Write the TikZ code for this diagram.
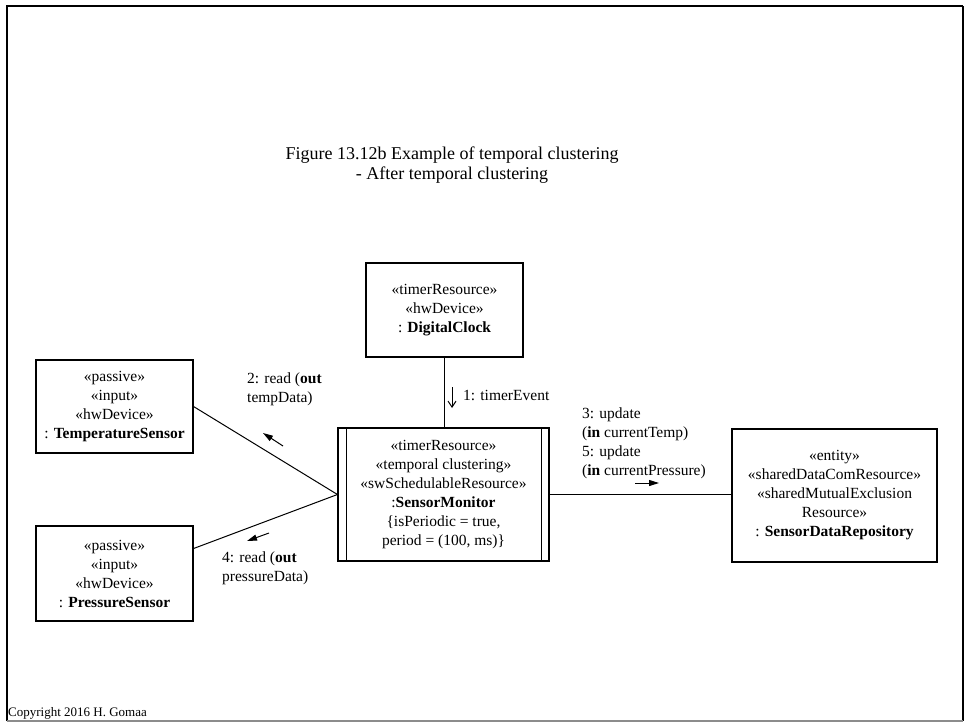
\documentclass[tikz,border=0pt]{standalone}
\usepackage{fontspec}
\setmainfont{Liberation Serif}
\usetikzlibrary{arrows.meta,calc}
\begin{document}
\begin{tikzpicture}[x=1pt,y=-1pt,font=\fontsize{15.5}{19}\selectfont,
  obj/.style={draw,line width=1.1pt,align=center,inner sep=0pt},
  msg/.style={align=left,anchor=west,inner sep=0pt},
  flow/.style={line width=1pt,-{Triangle[length=10pt,width=6pt]}}]
\useasboundingbox (0,0) rectangle (968,723);
\draw[line width=2.5pt] (7,721) -- (7,6) -- (963,6);
\draw[line width=2pt] (963,6) -- (963,721);
\draw[black!45,line width=1.5pt] (7,721) -- (963,721);

\node[align=center,font=\fontsize{18}{20}\selectfont] (title) at (452,165) {Figure 13.12b Example of temporal clustering\\- After temporal clustering};

\node[obj,minimum width=157pt,minimum height=94pt] (clock) at (444.5,310) {«timerResource»\\«hwDevice»\\: \textbf{DigitalClock}};
\node[obj,minimum width=211pt,minimum height=133pt] (monitor) at (443.5,494.5) {«timerResource»\\«temporal clustering»\\«swSchedulableResource»\\:\textbf{SensorMonitor}\\\{isPeriodic = true,\\period = (100, ms)\}};
\node[obj,minimum width=157pt,minimum height=93pt] (tempsensor) at (114.5,406.5) {«passive»\\«input»\\«hwDevice»\\: \textbf{TemperatureSensor}};
\node[obj,minimum width=157pt,minimum height=95pt] (pressensor) at (114.5,573.5) {«passive»\\«input»\\«hwDevice»\\: \textbf{PressureSensor}};
\node[obj,minimum width=205pt,minimum height=133pt] (repo) at (834.5,495.5) {«entity»\\«sharedDataComResource»\\«sharedMutualExclusion\\Resource»\\: \textbf{SensorDataRepository}};

\draw[line width=1.1pt] ([xshift=9pt]monitor.north west) -- ([xshift=9pt]monitor.south west);
\draw[line width=1.1pt] ([xshift=-8pt]monitor.north east) -- ([xshift=-8pt]monitor.south east);

\draw[line width=1pt] (clock.south) -- (clock.south |- monitor.north);
\draw[line width=1pt] (tempsensor.east) -- (monitor.west);
\draw[line width=1pt] ($(pressensor.north east)!0.24!(pressensor.south east)$) -- (monitor.west);
\draw[line width=1pt] (monitor.east) -- (monitor.east -| repo.west);

\node[msg] (m1) at (463,395) {1: timerEvent};
\node[msg] (m2) at (247,389.5) {2: read (\textbf{out}\\tempData)};
\node[msg] (m3) at (582,443.5) {3: update\\(\textbf{in} currentTemp)\\5: update\\(\textbf{in} currentPressure)};
\node[msg] (m4) at (222,568) {4: read (\textbf{out}\\pressureData)};

\coordinate (t1a) at (452,387);
\coordinate (t1b) at (452,408);
\coordinate (t2a) at (283,446);
\coordinate (t2b) at (263,433);
\coordinate (t3a) at (635,483);
\coordinate (t3b) at (659,483);
\coordinate (t4a) at (269,533);
\coordinate (t4b) at (247,541);
\draw[line width=1pt,-{Straight Barb[length=6pt,width=8pt]}] (t1a) -- (t1b);
\draw[flow] (t2a) -- (t2b);
\draw[flow] (t3a) -- (t3b);
\draw[flow] (t4a) -- (t4b);

\node[anchor=west,inner sep=0pt,font=\fontsize{13}{15}\selectfont] (copy) at (8,713) {Copyright 2016 H. Gomaa};
\end{tikzpicture}
\end{document}
